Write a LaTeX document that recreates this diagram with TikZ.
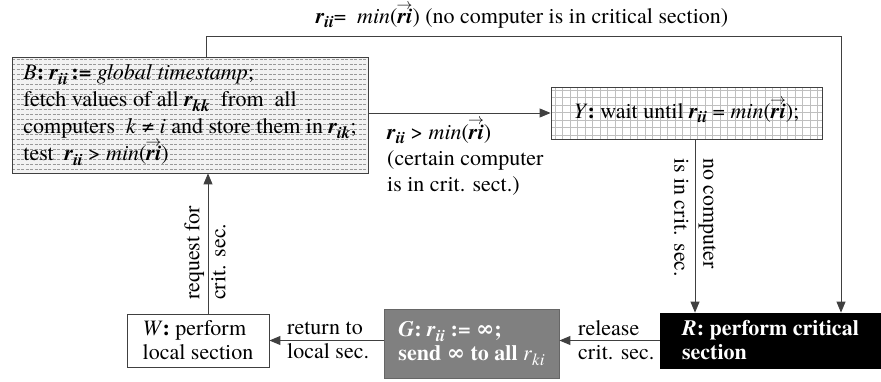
\documentclass[tikz,border=0pt]{standalone}
\usepackage{fontspec}
\setmainfont{texgyretermes}[Extension=.otf,UprightFont=*-regular,BoldFont=*-bold,ItalicFont=*-italic,BoldItalicFont=*-bolditalic]
\usetikzlibrary{arrows.meta}
\definecolor{linec}{HTML}{404040}
\newcommand\bi[1]{\textbf{\textit{#1}}}
\newcommand\sbi[1]{\raisebox{-0.45ex}{\fontsize{17}{17}\selectfont\bfseries\itshape #1}}
\newcommand\rr[1]{\bi{r}\sbi{#1}}
\newcommand\vri{\mbox{\bfseries\itshape ri}\llap{\raisebox{0.64em}[0pt][0pt]{\resizebox{0.72em}{0.26em}{$\rightarrow$}}}}
\tikzset{
  lbl/.style={font=\fontsize{22}{24}\selectfont, inner sep=0pt},
  boxs/.style={draw=linec, line width=0.8pt, inner sep=0pt, align=left, font=\fontsize{22}{24}\selectfont},
  arr/.style={draw=linec, line width=0.9pt, -{Triangle[length=11pt,width=9pt]}},
  dashfill/.style={fill=black!5, path picture={
     \foreach \yy in {2,7,...,130}
       \draw[black!40, line width=0.6pt, dash pattern=on 3pt off 1.5pt]
         ([yshift=-\yy pt]path picture bounding box.north west) -- ++(400,0);}},
  gridfill/.style={fill=white, path picture={
     \foreach \yy in {3,10.5,...,60}
       \draw[black!25, line width=0.5pt]
         ([yshift=-\yy pt]path picture bounding box.north west) -- ++(300,0);
     \foreach \xx in {4,11.5,...,280}
       \draw[black!25, line width=0.5pt]
         ([xshift=\xx pt]path picture bounding box.north west) -- ++(0,70);}}
}
\begin{document}
\begin{tikzpicture}[x=1pt, y=-1pt]
\useasboundingbox (0,0) rectangle (881,381);

% boxes
\node[boxs, dashfill, minimum width=356pt, minimum height=116pt,
      font=\fontsize{22}{27}\selectfont] (B) at (190,115)
 {\textit{B}\textbf{:} \rr{ii}\,\textbf{:=} \textit{global timestamp};\\
  fetch values of all \rr{kk} \ from \ all\\
  computers \ \textit{k} ≠ \textit{i} and store them in \rr{ik};\\
  test \ \rr{ii} > \textit{min}(\vri)};

\node[boxs, gridfill, minimum width=271pt, minimum height=52pt] (Y) at (686.5,113)
 {\textit{Y}\textbf{:} wait until \rr{ii} = \textit{min}(\vri);};

\node[boxs, minimum width=142pt, minimum height=53pt] (W) at (198,340.5)
 {\textit{W}\textbf{:} perform\\local section};

\node[boxs, draw=black!60, fill=black!50, text=white, minimum width=175pt, minimum height=69pt] (G) at (471.5,343.5)
 {\textbf{\textit{G}: \textit{r}\sbi{ii} := ∞;}\\\textbf{send ∞ to all} \textit{r}\raisebox{-0.45ex}{\fontsize{17}{17}\selectfont\itshape ki}};

\node[boxs, draw=black, fill=black, text=white, minimum width=221pt, minimum height=55pt] (R) at (770.5,340.5)
 {\textbf{\textit{R}: perform critical}\\\textbf{section}};

% helper coordinates
\coordinate (t1) at (206,36);
\coordinate (t2) at (841,36);
\coordinate (yr) at (695,0);
\coordinate (wb) at (208,0);

% connectors
\draw[arr] (B.north -| t1) -- (t1) -- (t2) -- (R.north -| t2);
\draw[arr] (B.east |- Y.west) -- (Y.west);
\draw[arr] (Y.south -| yr) -- (R.north -| yr);
\draw[arr] (R.west) -- (G.east |- R.west);
\draw[arr] (G.west |- W.east) -- (W.east);
\draw[arr] (W.north -| wb) -- (B.south -| wb);

% labels
\node[lbl] (ltop) at (522,18) {\rr{ii}= \ \textit{min}(\vri) (no computer is in critical section)};
\node[lbl, align=left, anchor=north west, font=\fontsize{22}{26}\selectfont] (lby) at (387,124)
 {\rr{ii} > \textit{min}(\vri)\\(certain computer\\is in crit. sect.)};
\node[lbl, align=left, rotate=-90, anchor=west, font=\fontsize{22}{29}\selectfont] (lyr) at (695,158)
 {no computer\\is in crit. sec.};
\node[lbl, align=left, anchor=west] (lrg) at (578,340) {release\\crit. sec.};
\node[lbl, align=left, anchor=west] (lgw) at (287,340) {return to\\local sec.};
\node[lbl, align=left, rotate=90, anchor=west, font=\fontsize{22}{26}\selectfont] (lwb) at (205,300)
 {request for\\crit. sec.};
\end{tikzpicture}
\end{document}
